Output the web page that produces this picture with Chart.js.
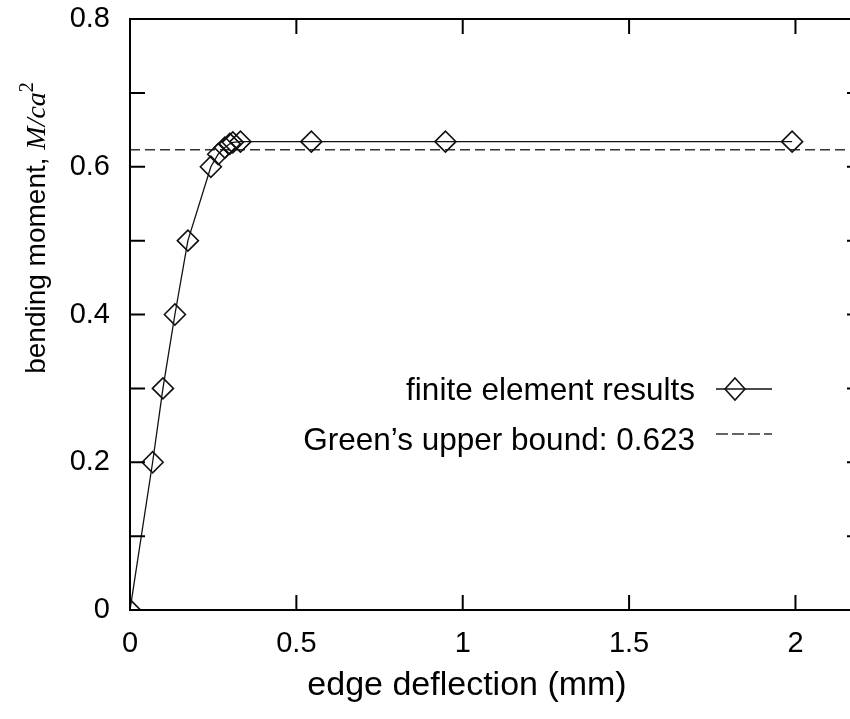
<!DOCTYPE html>
<html lang="en">
<head>
<meta charset="UTF-8">
<script src="https://cdn.jsdelivr.net/npm/chart.js"></script>
<meta name="viewport" content="width=device-width, initial-scale=1.0">
<title>Bending moment vs edge deflection</title>
<style>
html, body { margin: 0; padding: 0; background: #fff; overflow: hidden; }
#wrap { width: 880px; height: 719px; }
</style>
</head>
<body>
<div id="wrap"><canvas id="chart" width="880" height="719"></canvas></div>
<script>
// finite element results
var deflection = [0, 0.068, 0.099, 0.135, 0.174, 0.243, 0.265, 0.285, 0.300, 0.309, 0.332, 0.545, 0.948, 1.990];
var moment     = [0, 0.2, 0.3, 0.4, 0.5, 0.6, 0.617, 0.626, 0.631, 0.633, 0.634, 0.634, 0.634, 0.634];
// Green's upper bound
var boundX = [0, 2.2];
var boundValue = 0.623;

var xTicks = [0, 0.5, 1, 1.5, 2];
var yTicks = [0, 0.1, 0.2, 0.3, 0.4, 0.5, 0.6, 0.7, 0.8];
var yLabels = ['0', '', '0.2', '', '0.4', '', '0.6', '', '0.8'];

var FONT = '"Liberation Sans", Arial, Helvetica, sans-serif';
Chart.defaults.font.family = FONT;
Chart.defaults.color = '#000';

// frame, inward ticks, legend and axis titles (gnuplot look)
var frame = {
	id: 'frame',
	afterDraw: function(chart) {
		var ctx = chart.ctx, a = chart.chartArea;
		var xs = chart.scales.x, ys = chart.scales.y;
		var len = 15;
		ctx.save();
		ctx.strokeStyle = '#000';
		ctx.lineWidth = 2;
		ctx.strokeRect(a.left, a.top, a.right - a.left, a.bottom - a.top);
		ctx.beginPath();
		xTicks.forEach(function(v) {
			var px = xs.getPixelForValue(v);
			ctx.moveTo(px, a.bottom); ctx.lineTo(px, a.bottom - len);
			ctx.moveTo(px, a.top); ctx.lineTo(px, a.top + len);
		});
		yTicks.forEach(function(v) {
			var py = ys.getPixelForValue(v);
			ctx.moveTo(a.left, py); ctx.lineTo(a.left + len, py);
			ctx.moveTo(a.right, py); ctx.lineTo(a.right - len, py);
		});
		ctx.stroke();

		// legend
		ctx.fillStyle = '#000';
		ctx.font = '31.5px ' + FONT;
		ctx.textAlign = 'right';
		ctx.textBaseline = 'alphabetic';
		ctx.fillText('finite element results', 695, 400);
		ctx.fillText('Green\u2019s upper bound: 0.623', 695, 450);

		ctx.lineWidth = 1.3;
		ctx.strokeStyle = '#111';
		ctx.beginPath();
		ctx.moveTo(716, 389); ctx.lineTo(772, 389);
		ctx.stroke();
		ctx.lineWidth = 1.6;
		ctx.beginPath();
		ctx.moveTo(735, 378); ctx.lineTo(745, 389); ctx.lineTo(735, 400); ctx.lineTo(725, 389); ctx.closePath();
		ctx.stroke();

		ctx.strokeStyle = '#333';
		ctx.lineWidth = 1.6;
		ctx.setLineDash([12, 4]);
		ctx.beginPath();
		ctx.moveTo(716, 434); ctx.lineTo(772, 434);
		ctx.stroke();
		ctx.setLineDash([]);

		// x axis title
		ctx.textAlign = 'center';
		ctx.font = '34px ' + FONT;
		ctx.fillText('edge deflection (mm)', 467, 695);

		// y axis title, with italic M/ca and superscript 2
		ctx.translate(45, 228);
		ctx.rotate(-Math.PI / 2);
		var parts = [
			{ t: 'bending moment, ', f: '28px ' + FONT, dy: 0 },
			{ t: 'M/ca', f: 'italic 28px "Liberation Serif", "DejaVu Serif", serif', dy: 0 },
			{ t: '2', f: '20px "Liberation Serif", "DejaVu Serif", serif', dy: -12 }
		];
		var total = 0;
		parts.forEach(function(p) { ctx.font = p.f; p.w = ctx.measureText(p.t).width; total += p.w; });
		var x = -total / 2;
		ctx.textAlign = 'left';
		parts.forEach(function(p) { ctx.font = p.f; ctx.fillText(p.t, x, p.dy); x += p.w; });
		ctx.restore();
	}
};

var ctx = document.getElementById('chart').getContext('2d');
var chart = new Chart(ctx, {
	type: 'scatter',
	data: {
		datasets: [{
			label: 'finite element results',
			data: deflection.map(function(d, i) { return { x: d, y: moment[i] }; }),
			showLine: true,
			borderColor: '#111',
			borderWidth: 1.3,
			pointStyle: 'rectRot',
			pointRadius: 10.5,
			pointBorderWidth: 1.6,
			pointBorderColor: '#111',
			pointBackgroundColor: 'rgba(0,0,0,0)',
			tension: 0
		}, {
			label: 'Green\u2019s upper bound: 0.623',
			data: boundX.map(function(d) { return { x: d, y: boundValue }; }),
			showLine: true,
			borderColor: '#333',
			borderWidth: 1.5,
			borderDash: [10, 5],
			pointRadius: 0
		}]
	},
	options: {
		responsive: false,
		animation: false,
		layout: { padding: { top: 19, right: 18, left: 0, bottom: 0 } },
		plugins: { legend: { display: false }, tooltip: { enabled: false } },
		scales: {
			x: {
				type: 'linear',
				min: 0, max: 2.2,
				grid: { display: false, drawTicks: false },
				border: { display: false },
				afterBuildTicks: function(s) { s.ticks = xTicks.map(function(v) { return { value: v }; }); },
				afterFit: function(s) { s.height = 109; s.paddingLeft = 0; s.paddingRight = 0; },
				ticks: {
					font: { size: 29 },
					padding: 17,
					maxRotation: 0,
					callback: function(v) { return String(v); }
				}
			},
			y: {
				type: 'linear',
				min: 0, max: 0.8,
				grid: { display: false, drawTicks: false },
				border: { display: false },
				afterBuildTicks: function(s) { s.ticks = yTicks.map(function(v) { return { value: v }; }); },
				afterFit: function(s) { s.width = 130; s.paddingTop = 0; s.paddingBottom = 0; },
				ticks: {
					font: { size: 29 },
					padding: 20,
					callback: function(v, i) { return yLabels[i]; }
				}
			}
		}
	},
	plugins: [frame]
});
</script>
</body>
</html>
